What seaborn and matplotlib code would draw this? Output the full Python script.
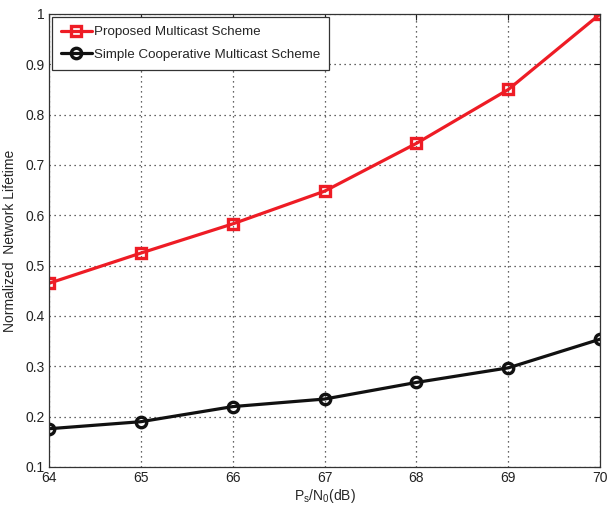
import matplotlib
matplotlib.use("Agg")
import matplotlib.pyplot as plt
import seaborn as sns
import pandas as pd

snr_db = [64, 65, 66, 67, 68, 69, 70]
proposed = [0.465, 0.525, 0.583, 0.648, 0.743, 0.850, 1.0]
simple = [0.176, 0.190, 0.220, 0.235, 0.268, 0.297, 0.354]
series_names = ["Proposed Multicast Scheme", "Simple Cooperative Multicast Scheme"]
x_ticks = [64, 65, 66, 67, 68, 69, 70]
y_ticks = [0.1, 0.2, 0.3, 0.4, 0.5, 0.6, 0.7, 0.8, 0.9, 1]
y_tick_labels = ["0.1", "0.2", "0.3", "0.4", "0.5", "0.6", "0.7", "0.8", "0.9", "1"]

sns.set_style("white")
plt.rcParams["font.family"] = ["Liberation Sans", "DejaVu Sans"]
plt.rcParams["mathtext.fontset"] = "custom"
plt.rcParams["mathtext.rm"] = "Liberation Sans"
plt.rcParams["mathtext.it"] = "Liberation Sans"

df = pd.DataFrame({
    "x": snr_db * 2,
    "y": proposed + simple,
    "series": [series_names[0]] * len(snr_db) + [series_names[1]] * len(snr_db),
})

fig = plt.figure(figsize=(6.08, 5.12), dpi=100)
ax = fig.add_axes([0.0806, 0.0879, 0.9066, 0.8848])

sns.lineplot(data=df, x="x", y="y", hue="series", style="series",
             palette={series_names[0]: "#ee1c25", series_names[1]: "#111111"},
             markers={series_names[0]: "s", series_names[1]: "o"},
             dashes=False, linewidth=2.3, ax=ax, legend=False)

for line, ms in zip(ax.lines, [6.5, 7.5]):
    line.set_markerfacecolor("none")
    line.set_markeredgewidth(2.4)
    line.set_markersize(ms)
    line.set_markeredgecolor(line.get_color())

ax.set_xlim(64, 70)
ax.set_ylim(0.1, 1.0)
ax.set_xticks(x_ticks)
ax.set_yticks(y_ticks)
ax.set_yticklabels(y_tick_labels)
ax.tick_params(direction="in", labelsize=10, length=4, colors="#222222", pad=3,
               top=True, right=True)
ax.grid(True, linestyle=(0, (1, 3)), color="#333333", linewidth=0.9)
for s in ax.spines.values():
    s.set_visible(True)
    s.set_color("#333333")
    s.set_linewidth(0.9)

ax.set_xlabel(r"P$_{\mathregular{s}}$/N$_{\mathregular{0}}$(dB)", fontsize=10, labelpad=1)
ax.set_ylabel("Normalized  Network Lifetime", fontsize=10, labelpad=6)

handles = [
    plt.Line2D([], [], color="#ee1c25", lw=2.3, marker="s", ms=6.5, mfc="none", mew=2.4, mec="#ee1c25"),
    plt.Line2D([], [], color="#111111", lw=2.3, marker="o", ms=7.5, mfc="none", mew=2.4, mec="#111111"),
]
leg = ax.legend(handles, series_names, loc="upper left", fontsize=9.6, frameon=True, fancybox=False,
                edgecolor="#333333", framealpha=1, borderaxespad=0.2, handlelength=2.3,
                handletextpad=0.15, borderpad=0.7, labelspacing=0.75)
leg.get_frame().set_linewidth(0.9)

fig.savefig("out.png", dpi=100)
